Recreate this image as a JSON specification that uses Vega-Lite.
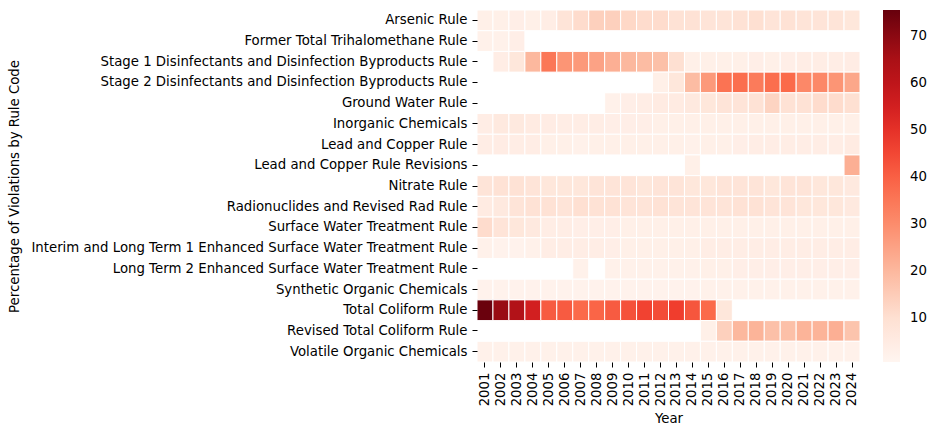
{
  "$schema": "https://vega.github.io/schema/vega-lite/v6.json",
  "autosize": {"type": "none"},
  "padding": {"left": 477, "top": 10, "right": 76, "bottom": 74},
  "width": 383,
  "height": 352,
  "background": "white",
  "config": {
    "font": "DejaVu Sans",
    "view": {"stroke": null},
    "axis": {"labelFont": "DejaVu Sans", "titleFont": "DejaVu Sans", "labelFontSize": 13.3, "titleFontSize": 13.3, "labelColor": "#000", "titleColor": "#000", "titleFontWeight": "normal", "domain": false, "tickColor": "#000", "tickSize": 5, "labelPadding": 5}
  },
  "datasets": {
    "cells": [
      {"rule": "Arsenic Rule", "year": "2001", "value": 3},
      {"rule": "Arsenic Rule", "year": "2002", "value": 3},
      {"rule": "Arsenic Rule", "year": "2003", "value": 3.5},
      {"rule": "Arsenic Rule", "year": "2004", "value": 3},
      {"rule": "Arsenic Rule", "year": "2005", "value": 4},
      {"rule": "Arsenic Rule", "year": "2006", "value": 8},
      {"rule": "Arsenic Rule", "year": "2007", "value": 11},
      {"rule": "Arsenic Rule", "year": "2008", "value": 14},
      {"rule": "Arsenic Rule", "year": "2009", "value": 14},
      {"rule": "Arsenic Rule", "year": "2010", "value": 12},
      {"rule": "Arsenic Rule", "year": "2011", "value": 11},
      {"rule": "Arsenic Rule", "year": "2012", "value": 11},
      {"rule": "Arsenic Rule", "year": "2013", "value": 9},
      {"rule": "Arsenic Rule", "year": "2014", "value": 9},
      {"rule": "Arsenic Rule", "year": "2015", "value": 8},
      {"rule": "Arsenic Rule", "year": "2016", "value": 8},
      {"rule": "Arsenic Rule", "year": "2017", "value": 9},
      {"rule": "Arsenic Rule", "year": "2018", "value": 10},
      {"rule": "Arsenic Rule", "year": "2019", "value": 8},
      {"rule": "Arsenic Rule", "year": "2020", "value": 9},
      {"rule": "Arsenic Rule", "year": "2021", "value": 8},
      {"rule": "Arsenic Rule", "year": "2022", "value": 8},
      {"rule": "Arsenic Rule", "year": "2023", "value": 8},
      {"rule": "Arsenic Rule", "year": "2024", "value": 7},
      {"rule": "Former Total Trihalomethane Rule", "year": "2001", "value": 2.5},
      {"rule": "Former Total Trihalomethane Rule", "year": "2002", "value": 2.5},
      {"rule": "Former Total Trihalomethane Rule", "year": "2003", "value": 3.5},
      {"rule": "Stage 1 Disinfectants and Disinfection Byproducts Rule", "year": "2002", "value": 4},
      {"rule": "Stage 1 Disinfectants and Disinfection Byproducts Rule", "year": "2003", "value": 7},
      {"rule": "Stage 1 Disinfectants and Disinfection Byproducts Rule", "year": "2004", "value": 20},
      {"rule": "Stage 1 Disinfectants and Disinfection Byproducts Rule", "year": "2005", "value": 35},
      {"rule": "Stage 1 Disinfectants and Disinfection Byproducts Rule", "year": "2006", "value": 28},
      {"rule": "Stage 1 Disinfectants and Disinfection Byproducts Rule", "year": "2007", "value": 27},
      {"rule": "Stage 1 Disinfectants and Disinfection Byproducts Rule", "year": "2008", "value": 25},
      {"rule": "Stage 1 Disinfectants and Disinfection Byproducts Rule", "year": "2009", "value": 22},
      {"rule": "Stage 1 Disinfectants and Disinfection Byproducts Rule", "year": "2010", "value": 20},
      {"rule": "Stage 1 Disinfectants and Disinfection Byproducts Rule", "year": "2011", "value": 19},
      {"rule": "Stage 1 Disinfectants and Disinfection Byproducts Rule", "year": "2012", "value": 18},
      {"rule": "Stage 1 Disinfectants and Disinfection Byproducts Rule", "year": "2013", "value": 10},
      {"rule": "Stage 1 Disinfectants and Disinfection Byproducts Rule", "year": "2014", "value": 3},
      {"rule": "Stage 1 Disinfectants and Disinfection Byproducts Rule", "year": "2015", "value": 3},
      {"rule": "Stage 1 Disinfectants and Disinfection Byproducts Rule", "year": "2016", "value": 3},
      {"rule": "Stage 1 Disinfectants and Disinfection Byproducts Rule", "year": "2017", "value": 3},
      {"rule": "Stage 1 Disinfectants and Disinfection Byproducts Rule", "year": "2018", "value": 3.5},
      {"rule": "Stage 1 Disinfectants and Disinfection Byproducts Rule", "year": "2019", "value": 3},
      {"rule": "Stage 1 Disinfectants and Disinfection Byproducts Rule", "year": "2020", "value": 3.5},
      {"rule": "Stage 1 Disinfectants and Disinfection Byproducts Rule", "year": "2021", "value": 4},
      {"rule": "Stage 1 Disinfectants and Disinfection Byproducts Rule", "year": "2022", "value": 4},
      {"rule": "Stage 1 Disinfectants and Disinfection Byproducts Rule", "year": "2023", "value": 4},
      {"rule": "Stage 1 Disinfectants and Disinfection Byproducts Rule", "year": "2024", "value": 4.5},
      {"rule": "Stage 2 Disinfectants and Disinfection Byproducts Rule", "year": "2012", "value": 3},
      {"rule": "Stage 2 Disinfectants and Disinfection Byproducts Rule", "year": "2013", "value": 7},
      {"rule": "Stage 2 Disinfectants and Disinfection Byproducts Rule", "year": "2014", "value": 19},
      {"rule": "Stage 2 Disinfectants and Disinfection Byproducts Rule", "year": "2015", "value": 27},
      {"rule": "Stage 2 Disinfectants and Disinfection Byproducts Rule", "year": "2016", "value": 36},
      {"rule": "Stage 2 Disinfectants and Disinfection Byproducts Rule", "year": "2017", "value": 37},
      {"rule": "Stage 2 Disinfectants and Disinfection Byproducts Rule", "year": "2018", "value": 34},
      {"rule": "Stage 2 Disinfectants and Disinfection Byproducts Rule", "year": "2019", "value": 37},
      {"rule": "Stage 2 Disinfectants and Disinfection Byproducts Rule", "year": "2020", "value": 38},
      {"rule": "Stage 2 Disinfectants and Disinfection Byproducts Rule", "year": "2021", "value": 31},
      {"rule": "Stage 2 Disinfectants and Disinfection Byproducts Rule", "year": "2022", "value": 31},
      {"rule": "Stage 2 Disinfectants and Disinfection Byproducts Rule", "year": "2023", "value": 28},
      {"rule": "Stage 2 Disinfectants and Disinfection Byproducts Rule", "year": "2024", "value": 24},
      {"rule": "Ground Water Rule", "year": "2009", "value": 2.5},
      {"rule": "Ground Water Rule", "year": "2010", "value": 3.5},
      {"rule": "Ground Water Rule", "year": "2011", "value": 4},
      {"rule": "Ground Water Rule", "year": "2012", "value": 5},
      {"rule": "Ground Water Rule", "year": "2013", "value": 5},
      {"rule": "Ground Water Rule", "year": "2014", "value": 6},
      {"rule": "Ground Water Rule", "year": "2015", "value": 7},
      {"rule": "Ground Water Rule", "year": "2016", "value": 8},
      {"rule": "Ground Water Rule", "year": "2017", "value": 8},
      {"rule": "Ground Water Rule", "year": "2018", "value": 9},
      {"rule": "Ground Water Rule", "year": "2019", "value": 13},
      {"rule": "Ground Water Rule", "year": "2020", "value": 9},
      {"rule": "Ground Water Rule", "year": "2021", "value": 9},
      {"rule": "Ground Water Rule", "year": "2022", "value": 11},
      {"rule": "Ground Water Rule", "year": "2023", "value": 11},
      {"rule": "Ground Water Rule", "year": "2024", "value": 10},
      {"rule": "Inorganic Chemicals", "year": "2001", "value": 4},
      {"rule": "Inorganic Chemicals", "year": "2002", "value": 6},
      {"rule": "Inorganic Chemicals", "year": "2003", "value": 6},
      {"rule": "Inorganic Chemicals", "year": "2004", "value": 5},
      {"rule": "Inorganic Chemicals", "year": "2005", "value": 4.5},
      {"rule": "Inorganic Chemicals", "year": "2006", "value": 4},
      {"rule": "Inorganic Chemicals", "year": "2007", "value": 4},
      {"rule": "Inorganic Chemicals", "year": "2008", "value": 4},
      {"rule": "Inorganic Chemicals", "year": "2009", "value": 3.5},
      {"rule": "Inorganic Chemicals", "year": "2010", "value": 3.5},
      {"rule": "Inorganic Chemicals", "year": "2011", "value": 3.5},
      {"rule": "Inorganic Chemicals", "year": "2012", "value": 3},
      {"rule": "Inorganic Chemicals", "year": "2013", "value": 3},
      {"rule": "Inorganic Chemicals", "year": "2014", "value": 3},
      {"rule": "Inorganic Chemicals", "year": "2015", "value": 3},
      {"rule": "Inorganic Chemicals", "year": "2016", "value": 3},
      {"rule": "Inorganic Chemicals", "year": "2017", "value": 3},
      {"rule": "Inorganic Chemicals", "year": "2018", "value": 3},
      {"rule": "Inorganic Chemicals", "year": "2019", "value": 3},
      {"rule": "Inorganic Chemicals", "year": "2020", "value": 3},
      {"rule": "Inorganic Chemicals", "year": "2021", "value": 3},
      {"rule": "Inorganic Chemicals", "year": "2022", "value": 3},
      {"rule": "Inorganic Chemicals", "year": "2023", "value": 3},
      {"rule": "Inorganic Chemicals", "year": "2024", "value": 3},
      {"rule": "Lead and Copper Rule", "year": "2001", "value": 4},
      {"rule": "Lead and Copper Rule", "year": "2002", "value": 4.5},
      {"rule": "Lead and Copper Rule", "year": "2003", "value": 4},
      {"rule": "Lead and Copper Rule", "year": "2004", "value": 4},
      {"rule": "Lead and Copper Rule", "year": "2005", "value": 3},
      {"rule": "Lead and Copper Rule", "year": "2006", "value": 3},
      {"rule": "Lead and Copper Rule", "year": "2007", "value": 2.5},
      {"rule": "Lead and Copper Rule", "year": "2008", "value": 3},
      {"rule": "Lead and Copper Rule", "year": "2009", "value": 3},
      {"rule": "Lead and Copper Rule", "year": "2010", "value": 3},
      {"rule": "Lead and Copper Rule", "year": "2011", "value": 3},
      {"rule": "Lead and Copper Rule", "year": "2012", "value": 3},
      {"rule": "Lead and Copper Rule", "year": "2013", "value": 3},
      {"rule": "Lead and Copper Rule", "year": "2014", "value": 2.5},
      {"rule": "Lead and Copper Rule", "year": "2015", "value": 3},
      {"rule": "Lead and Copper Rule", "year": "2016", "value": 3},
      {"rule": "Lead and Copper Rule", "year": "2017", "value": 3.5},
      {"rule": "Lead and Copper Rule", "year": "2018", "value": 4},
      {"rule": "Lead and Copper Rule", "year": "2019", "value": 4},
      {"rule": "Lead and Copper Rule", "year": "2020", "value": 4},
      {"rule": "Lead and Copper Rule", "year": "2021", "value": 4},
      {"rule": "Lead and Copper Rule", "year": "2022", "value": 4},
      {"rule": "Lead and Copper Rule", "year": "2023", "value": 4},
      {"rule": "Lead and Copper Rule", "year": "2024", "value": 5},
      {"rule": "Lead and Copper Rule Revisions", "year": "2014", "value": 3},
      {"rule": "Lead and Copper Rule Revisions", "year": "2024", "value": 22},
      {"rule": "Nitrate Rule", "year": "2001", "value": 8},
      {"rule": "Nitrate Rule", "year": "2002", "value": 9},
      {"rule": "Nitrate Rule", "year": "2003", "value": 9},
      {"rule": "Nitrate Rule", "year": "2004", "value": 8},
      {"rule": "Nitrate Rule", "year": "2005", "value": 7},
      {"rule": "Nitrate Rule", "year": "2006", "value": 7},
      {"rule": "Nitrate Rule", "year": "2007", "value": 7},
      {"rule": "Nitrate Rule", "year": "2008", "value": 8},
      {"rule": "Nitrate Rule", "year": "2009", "value": 8},
      {"rule": "Nitrate Rule", "year": "2010", "value": 8},
      {"rule": "Nitrate Rule", "year": "2011", "value": 7},
      {"rule": "Nitrate Rule", "year": "2012", "value": 8},
      {"rule": "Nitrate Rule", "year": "2013", "value": 8},
      {"rule": "Nitrate Rule", "year": "2014", "value": 7},
      {"rule": "Nitrate Rule", "year": "2015", "value": 7},
      {"rule": "Nitrate Rule", "year": "2016", "value": 8},
      {"rule": "Nitrate Rule", "year": "2017", "value": 8},
      {"rule": "Nitrate Rule", "year": "2018", "value": 8},
      {"rule": "Nitrate Rule", "year": "2019", "value": 7},
      {"rule": "Nitrate Rule", "year": "2020", "value": 8},
      {"rule": "Nitrate Rule", "year": "2021", "value": 8},
      {"rule": "Nitrate Rule", "year": "2022", "value": 7},
      {"rule": "Nitrate Rule", "year": "2023", "value": 7},
      {"rule": "Nitrate Rule", "year": "2024", "value": 6},
      {"rule": "Radionuclides and Revised Rad Rule", "year": "2001", "value": 5},
      {"rule": "Radionuclides and Revised Rad Rule", "year": "2002", "value": 6},
      {"rule": "Radionuclides and Revised Rad Rule", "year": "2003", "value": 8},
      {"rule": "Radionuclides and Revised Rad Rule", "year": "2004", "value": 9},
      {"rule": "Radionuclides and Revised Rad Rule", "year": "2005", "value": 9},
      {"rule": "Radionuclides and Revised Rad Rule", "year": "2006", "value": 8},
      {"rule": "Radionuclides and Revised Rad Rule", "year": "2007", "value": 10},
      {"rule": "Radionuclides and Revised Rad Rule", "year": "2008", "value": 9},
      {"rule": "Radionuclides and Revised Rad Rule", "year": "2009", "value": 9},
      {"rule": "Radionuclides and Revised Rad Rule", "year": "2010", "value": 8},
      {"rule": "Radionuclides and Revised Rad Rule", "year": "2011", "value": 8},
      {"rule": "Radionuclides and Revised Rad Rule", "year": "2012", "value": 9},
      {"rule": "Radionuclides and Revised Rad Rule", "year": "2013", "value": 8},
      {"rule": "Radionuclides and Revised Rad Rule", "year": "2014", "value": 8},
      {"rule": "Radionuclides and Revised Rad Rule", "year": "2015", "value": 8},
      {"rule": "Radionuclides and Revised Rad Rule", "year": "2016", "value": 8},
      {"rule": "Radionuclides and Revised Rad Rule", "year": "2017", "value": 9},
      {"rule": "Radionuclides and Revised Rad Rule", "year": "2018", "value": 9},
      {"rule": "Radionuclides and Revised Rad Rule", "year": "2019", "value": 8},
      {"rule": "Radionuclides and Revised Rad Rule", "year": "2020", "value": 8},
      {"rule": "Radionuclides and Revised Rad Rule", "year": "2021", "value": 7},
      {"rule": "Radionuclides and Revised Rad Rule", "year": "2022", "value": 7},
      {"rule": "Radionuclides and Revised Rad Rule", "year": "2023", "value": 7},
      {"rule": "Radionuclides and Revised Rad Rule", "year": "2024", "value": 6},
      {"rule": "Surface Water Treatment Rule", "year": "2001", "value": 11},
      {"rule": "Surface Water Treatment Rule", "year": "2002", "value": 8},
      {"rule": "Surface Water Treatment Rule", "year": "2003", "value": 7},
      {"rule": "Surface Water Treatment Rule", "year": "2004", "value": 6},
      {"rule": "Surface Water Treatment Rule", "year": "2005", "value": 4},
      {"rule": "Surface Water Treatment Rule", "year": "2006", "value": 4},
      {"rule": "Surface Water Treatment Rule", "year": "2007", "value": 3.5},
      {"rule": "Surface Water Treatment Rule", "year": "2008", "value": 3.5},
      {"rule": "Surface Water Treatment Rule", "year": "2009", "value": 3.5},
      {"rule": "Surface Water Treatment Rule", "year": "2010", "value": 3},
      {"rule": "Surface Water Treatment Rule", "year": "2011", "value": 3},
      {"rule": "Surface Water Treatment Rule", "year": "2012", "value": 3},
      {"rule": "Surface Water Treatment Rule", "year": "2013", "value": 3},
      {"rule": "Surface Water Treatment Rule", "year": "2014", "value": 3},
      {"rule": "Surface Water Treatment Rule", "year": "2015", "value": 3},
      {"rule": "Surface Water Treatment Rule", "year": "2016", "value": 3},
      {"rule": "Surface Water Treatment Rule", "year": "2017", "value": 3},
      {"rule": "Surface Water Treatment Rule", "year": "2018", "value": 3},
      {"rule": "Surface Water Treatment Rule", "year": "2019", "value": 3},
      {"rule": "Surface Water Treatment Rule", "year": "2020", "value": 3},
      {"rule": "Surface Water Treatment Rule", "year": "2021", "value": 3},
      {"rule": "Surface Water Treatment Rule", "year": "2022", "value": 3},
      {"rule": "Surface Water Treatment Rule", "year": "2023", "value": 3},
      {"rule": "Surface Water Treatment Rule", "year": "2024", "value": 3},
      {"rule": "Interim and Long Term 1 Enhanced Surface Water Treatment Rule", "year": "2001", "value": 2.5},
      {"rule": "Interim and Long Term 1 Enhanced Surface Water Treatment Rule", "year": "2002", "value": 2},
      {"rule": "Interim and Long Term 1 Enhanced Surface Water Treatment Rule", "year": "2003", "value": 2},
      {"rule": "Interim and Long Term 1 Enhanced Surface Water Treatment Rule", "year": "2004", "value": 2.5},
      {"rule": "Interim and Long Term 1 Enhanced Surface Water Treatment Rule", "year": "2005", "value": 4},
      {"rule": "Interim and Long Term 1 Enhanced Surface Water Treatment Rule", "year": "2006", "value": 4},
      {"rule": "Interim and Long Term 1 Enhanced Surface Water Treatment Rule", "year": "2007", "value": 4},
      {"rule": "Interim and Long Term 1 Enhanced Surface Water Treatment Rule", "year": "2008", "value": 4},
      {"rule": "Interim and Long Term 1 Enhanced Surface Water Treatment Rule", "year": "2009", "value": 3.5},
      {"rule": "Interim and Long Term 1 Enhanced Surface Water Treatment Rule", "year": "2010", "value": 3},
      {"rule": "Interim and Long Term 1 Enhanced Surface Water Treatment Rule", "year": "2011", "value": 3},
      {"rule": "Interim and Long Term 1 Enhanced Surface Water Treatment Rule", "year": "2012", "value": 3},
      {"rule": "Interim and Long Term 1 Enhanced Surface Water Treatment Rule", "year": "2013", "value": 3},
      {"rule": "Interim and Long Term 1 Enhanced Surface Water Treatment Rule", "year": "2014", "value": 3},
      {"rule": "Interim and Long Term 1 Enhanced Surface Water Treatment Rule", "year": "2015", "value": 4},
      {"rule": "Interim and Long Term 1 Enhanced Surface Water Treatment Rule", "year": "2016", "value": 4},
      {"rule": "Interim and Long Term 1 Enhanced Surface Water Treatment Rule", "year": "2017", "value": 4},
      {"rule": "Interim and Long Term 1 Enhanced Surface Water Treatment Rule", "year": "2018", "value": 4},
      {"rule": "Interim and Long Term 1 Enhanced Surface Water Treatment Rule", "year": "2019", "value": 4},
      {"rule": "Interim and Long Term 1 Enhanced Surface Water Treatment Rule", "year": "2020", "value": 4},
      {"rule": "Interim and Long Term 1 Enhanced Surface Water Treatment Rule", "year": "2021", "value": 4},
      {"rule": "Interim and Long Term 1 Enhanced Surface Water Treatment Rule", "year": "2022", "value": 4},
      {"rule": "Interim and Long Term 1 Enhanced Surface Water Treatment Rule", "year": "2023", "value": 4},
      {"rule": "Interim and Long Term 1 Enhanced Surface Water Treatment Rule", "year": "2024", "value": 4},
      {"rule": "Long Term 2 Enhanced Surface Water Treatment Rule", "year": "2007", "value": 2.5},
      {"rule": "Long Term 2 Enhanced Surface Water Treatment Rule", "year": "2009", "value": 2.5},
      {"rule": "Long Term 2 Enhanced Surface Water Treatment Rule", "year": "2010", "value": 2.5},
      {"rule": "Long Term 2 Enhanced Surface Water Treatment Rule", "year": "2011", "value": 2.5},
      {"rule": "Long Term 2 Enhanced Surface Water Treatment Rule", "year": "2012", "value": 2.5},
      {"rule": "Long Term 2 Enhanced Surface Water Treatment Rule", "year": "2013", "value": 2.5},
      {"rule": "Long Term 2 Enhanced Surface Water Treatment Rule", "year": "2014", "value": 2.5},
      {"rule": "Long Term 2 Enhanced Surface Water Treatment Rule", "year": "2015", "value": 3},
      {"rule": "Long Term 2 Enhanced Surface Water Treatment Rule", "year": "2016", "value": 3},
      {"rule": "Long Term 2 Enhanced Surface Water Treatment Rule", "year": "2017", "value": 3.5},
      {"rule": "Long Term 2 Enhanced Surface Water Treatment Rule", "year": "2018", "value": 3.5},
      {"rule": "Long Term 2 Enhanced Surface Water Treatment Rule", "year": "2019", "value": 3.5},
      {"rule": "Long Term 2 Enhanced Surface Water Treatment Rule", "year": "2020", "value": 3.5},
      {"rule": "Long Term 2 Enhanced Surface Water Treatment Rule", "year": "2021", "value": 3.5},
      {"rule": "Long Term 2 Enhanced Surface Water Treatment Rule", "year": "2022", "value": 3.5},
      {"rule": "Long Term 2 Enhanced Surface Water Treatment Rule", "year": "2023", "value": 3.5},
      {"rule": "Long Term 2 Enhanced Surface Water Treatment Rule", "year": "2024", "value": 3.5},
      {"rule": "Synthetic Organic Chemicals", "year": "2001", "value": 2},
      {"rule": "Synthetic Organic Chemicals", "year": "2002", "value": 2},
      {"rule": "Synthetic Organic Chemicals", "year": "2003", "value": 2},
      {"rule": "Synthetic Organic Chemicals", "year": "2004", "value": 2},
      {"rule": "Synthetic Organic Chemicals", "year": "2005", "value": 2},
      {"rule": "Synthetic Organic Chemicals", "year": "2006", "value": 2},
      {"rule": "Synthetic Organic Chemicals", "year": "2007", "value": 2},
      {"rule": "Synthetic Organic Chemicals", "year": "2008", "value": 2},
      {"rule": "Synthetic Organic Chemicals", "year": "2009", "value": 2},
      {"rule": "Synthetic Organic Chemicals", "year": "2010", "value": 2},
      {"rule": "Synthetic Organic Chemicals", "year": "2011", "value": 2},
      {"rule": "Synthetic Organic Chemicals", "year": "2012", "value": 2},
      {"rule": "Synthetic Organic Chemicals", "year": "2013", "value": 2},
      {"rule": "Synthetic Organic Chemicals", "year": "2014", "value": 2},
      {"rule": "Synthetic Organic Chemicals", "year": "2015", "value": 2.5},
      {"rule": "Synthetic Organic Chemicals", "year": "2016", "value": 2.5},
      {"rule": "Synthetic Organic Chemicals", "year": "2017", "value": 2.5},
      {"rule": "Synthetic Organic Chemicals", "year": "2018", "value": 2.5},
      {"rule": "Synthetic Organic Chemicals", "year": "2019", "value": 2.5},
      {"rule": "Synthetic Organic Chemicals", "year": "2020", "value": 2.5},
      {"rule": "Synthetic Organic Chemicals", "year": "2021", "value": 2.5},
      {"rule": "Synthetic Organic Chemicals", "year": "2022", "value": 2.5},
      {"rule": "Synthetic Organic Chemicals", "year": "2023", "value": 2.5},
      {"rule": "Synthetic Organic Chemicals", "year": "2024", "value": 2.5},
      {"rule": "Total Coliform Rule", "year": "2001", "value": 75},
      {"rule": "Total Coliform Rule", "year": "2002", "value": 68},
      {"rule": "Total Coliform Rule", "year": "2003", "value": 63},
      {"rule": "Total Coliform Rule", "year": "2004", "value": 55},
      {"rule": "Total Coliform Rule", "year": "2005", "value": 41},
      {"rule": "Total Coliform Rule", "year": "2006", "value": 41},
      {"rule": "Total Coliform Rule", "year": "2007", "value": 38},
      {"rule": "Total Coliform Rule", "year": "2008", "value": 39},
      {"rule": "Total Coliform Rule", "year": "2009", "value": 41},
      {"rule": "Total Coliform Rule", "year": "2010", "value": 43},
      {"rule": "Total Coliform Rule", "year": "2011", "value": 46},
      {"rule": "Total Coliform Rule", "year": "2012", "value": 44},
      {"rule": "Total Coliform Rule", "year": "2013", "value": 47},
      {"rule": "Total Coliform Rule", "year": "2014", "value": 42},
      {"rule": "Total Coliform Rule", "year": "2015", "value": 38},
      {"rule": "Total Coliform Rule", "year": "2016", "value": 7},
      {"rule": "Revised Total Coliform Rule", "year": "2015", "value": 3},
      {"rule": "Revised Total Coliform Rule", "year": "2016", "value": 14},
      {"rule": "Revised Total Coliform Rule", "year": "2017", "value": 20},
      {"rule": "Revised Total Coliform Rule", "year": "2018", "value": 21},
      {"rule": "Revised Total Coliform Rule", "year": "2019", "value": 18},
      {"rule": "Revised Total Coliform Rule", "year": "2020", "value": 18},
      {"rule": "Revised Total Coliform Rule", "year": "2021", "value": 21},
      {"rule": "Revised Total Coliform Rule", "year": "2022", "value": 21},
      {"rule": "Revised Total Coliform Rule", "year": "2023", "value": 22},
      {"rule": "Revised Total Coliform Rule", "year": "2024", "value": 17},
      {"rule": "Volatile Organic Chemicals", "year": "2001", "value": 2.5},
      {"rule": "Volatile Organic Chemicals", "year": "2002", "value": 2.5},
      {"rule": "Volatile Organic Chemicals", "year": "2003", "value": 2.5},
      {"rule": "Volatile Organic Chemicals", "year": "2004", "value": 2.5},
      {"rule": "Volatile Organic Chemicals", "year": "2005", "value": 2.5},
      {"rule": "Volatile Organic Chemicals", "year": "2006", "value": 2.5},
      {"rule": "Volatile Organic Chemicals", "year": "2007", "value": 2.5},
      {"rule": "Volatile Organic Chemicals", "year": "2008", "value": 2.5},
      {"rule": "Volatile Organic Chemicals", "year": "2009", "value": 2.5},
      {"rule": "Volatile Organic Chemicals", "year": "2010", "value": 2.5},
      {"rule": "Volatile Organic Chemicals", "year": "2011", "value": 2.5},
      {"rule": "Volatile Organic Chemicals", "year": "2012", "value": 2.5},
      {"rule": "Volatile Organic Chemicals", "year": "2013", "value": 2.5},
      {"rule": "Volatile Organic Chemicals", "year": "2014", "value": 2.5},
      {"rule": "Volatile Organic Chemicals", "year": "2015", "value": 2.5},
      {"rule": "Volatile Organic Chemicals", "year": "2016", "value": 2.5},
      {"rule": "Volatile Organic Chemicals", "year": "2017", "value": 2.5},
      {"rule": "Volatile Organic Chemicals", "year": "2018", "value": 2.5},
      {"rule": "Volatile Organic Chemicals", "year": "2019", "value": 2.5},
      {"rule": "Volatile Organic Chemicals", "year": "2020", "value": 2.5},
      {"rule": "Volatile Organic Chemicals", "year": "2021", "value": 2.5},
      {"rule": "Volatile Organic Chemicals", "year": "2022", "value": 2.5},
      {"rule": "Volatile Organic Chemicals", "year": "2023", "value": 2.5},
      {"rule": "Volatile Organic Chemicals", "year": "2024", "value": 2.5}
    ]
  },
  "data": {"name": "cells"},
  "mark": {"type": "rect", "stroke": "white", "strokeWidth": 1},
  "encoding": {
    "x": {
      "field": "year", "type": "ordinal", "title": "Year",
      "scale": {"domain": ["2001","2002","2003","2004","2005","2006","2007","2008","2009","2010","2011","2012","2013","2014","2015","2016","2017","2018","2019","2020","2021","2022","2023","2024"], "paddingInner": 0, "paddingOuter": 0},
      "axis": {"labelAngle": 270, "labelAlign": "right", "labelBaseline": "middle", "titleY": 56, "titleBaseline": "middle"}
    },
    "y": {
      "field": "rule", "type": "nominal", "title": "Percentage of Violations by Rule Code",
      "scale": {"domain": ["Arsenic Rule","Former Total Trihalomethane Rule","Stage 1 Disinfectants and Disinfection Byproducts Rule","Stage 2 Disinfectants and Disinfection Byproducts Rule","Ground Water Rule","Inorganic Chemicals","Lead and Copper Rule","Lead and Copper Rule Revisions","Nitrate Rule","Radionuclides and Revised Rad Rule","Surface Water Treatment Rule","Interim and Long Term 1 Enhanced Surface Water Treatment Rule","Long Term 2 Enhanced Surface Water Treatment Rule","Synthetic Organic Chemicals","Total Coliform Rule","Revised Total Coliform Rule","Volatile Organic Chemicals"], "paddingInner": 0, "paddingOuter": 0},
      "axis": {"labelLimit": 600, "titleX": -463, "titleY": 176, "titleAngle": 270, "titleBaseline": "middle", "titleAlign": "center"}
    },
    "color": {
      "field": "value", "type": "quantitative",
      "scale": {"domain": [0.6, 9.96, 19.33, 28.69, 38.05, 47.41, 56.78, 66.14, 75.5], "range": ["#fff5f0","#fee0d2","#fcbba1","#fc9272","#fb6a4a","#ef3b2c","#cb181d","#a50f15","#67000d"], "interpolate": "rgb"},
      "legend": {"title": null, "orient": "right", "offset": 23, "gradientLength": 352, "gradientThickness": 17, "values": [10,20,30,40,50,60,70], "labelFontSize": 13.3, "labelFont": "DejaVu Sans", "labelColor": "#000", "labelOffset": 10, "gradientStrokeWidth": 0}
    }
  }
}
